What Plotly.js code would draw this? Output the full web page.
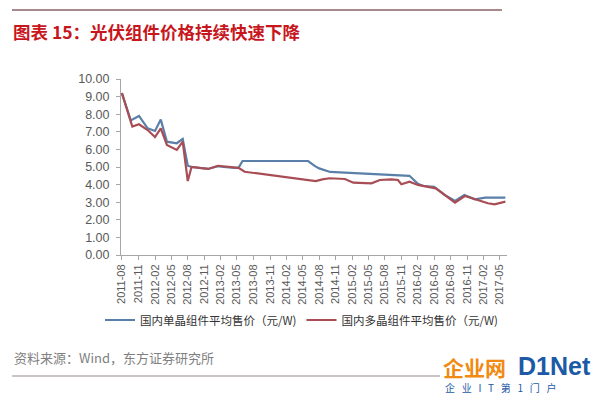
<!DOCTYPE html>
<html>
<head>
<meta charset="utf-8">
<script src="https://cdn.plot.ly/plotly-3.0.1.min.js"></script>
<style>html,body{margin:0;padding:0;background:#fff;}#chart{width:600px;height:397px;}</style>
</head>
<body>
<div id="chart"></div>
<script>
const monoDates = ['2011-08-01','2011-09-19','2011-11-04','2011-12-22','2012-02-01','2012-03-04','2012-04-07','2012-06-01','2012-07-04','2012-08-01','2012-08-22','2012-11-22','2013-01-16','2013-02-15','2013-04-19','2013-05-10','2013-06-01','2014-06-01','2014-07-07','2014-08-01','2014-10-01','2015-02-24','2015-07-01','2015-08-07','2015-12-16','2016-02-01','2016-03-01','2016-05-01','2016-07-01','2016-08-25','2016-10-16','2016-12-13','2017-02-09','2017-06-01'];
const monoPrice = [9.2,7.65,7.9,7.2,7.05,7.7,6.44,6.35,6.6,5.07,5.0,4.89,5.05,5.0,4.95,4.95,5.34,5.34,5.06,4.92,4.72,4.64,4.6,4.55,4.5,4.05,3.92,3.88,3.4,3.07,3.41,3.16,3.26,3.26];
const polyDates = ['2011-08-01','2011-09-19','2011-09-28','2011-11-04','2011-12-22','2012-02-01','2012-03-04','2012-04-07','2012-06-01','2012-07-04','2012-08-01','2012-08-22','2012-11-22','2013-01-16','2013-04-19','2013-05-10','2013-06-13','2014-05-19','2014-07-13','2014-08-19','2014-09-28','2014-12-22','2015-02-07','2015-05-19','2015-07-04','2015-09-07','2015-10-13','2015-11-01','2015-12-16','2016-02-01','2016-03-01','2016-05-10','2016-06-28','2016-08-25','2016-10-19','2016-12-22','2017-02-24','2017-04-01','2017-06-01'];
const polyPrice = [9.2,7.55,7.3,7.43,7.1,6.7,7.2,6.25,5.97,6.44,4.2,5.0,4.89,5.07,4.96,4.95,4.73,4.3,4.2,4.3,4.36,4.32,4.11,4.07,4.26,4.3,4.26,4.02,4.17,3.98,3.92,3.79,3.41,2.97,3.35,3.13,2.94,2.88,3.03];
const seriesNames = ['国内单晶组件平均售价（元/W)','国内多晶组件平均售价（元/W)'];
const titleText = '图表 15：光伏组件价格持续快速下降';
const sourceText = '资料来源：Wind，东方证券研究所';
const logoChars = ['企','业','I','T','第','1','门','户'];

const W = 600, H = 397, L = 121, R = 93, T = 79, B = 142;
const pw = W - L - R, ph = H - T - B;
const px = x => (x - L) / pw;
const py = y => (H - B - y) / ph;

const traces = [
  {x: monoDates, y: monoPrice, name: seriesNames[0], type: 'scatter', mode: 'lines',
   line: {color: '#5a7fa8', width: 2.2}},
  {x: polyDates, y: polyPrice, name: seriesNames[1], type: 'scatter', mode: 'lines',
   line: {color: '#a94d55', width: 2.2}}
];

const font = '"Noto Sans CJK SC", "Liberation Sans", Arial, sans-serif';
const layout = {
  width: W, height: H,
  margin: {l: L, r: R, t: T, b: B},
  paper_bgcolor: '#ffffff', plot_bgcolor: '#ffffff',
  font: {family: font, color: '#595959'},
  showlegend: true,
  legend: {orientation: 'h', x: px(100), y: py(320), xanchor: 'left', yanchor: 'middle',
           font: {size: 11.5, color: '#333333', family: font}, itemwidth: 30, tracegroupgap: 0,
           bgcolor: 'rgba(0,0,0,0)'},
  xaxis: {type: 'date', range: ['2011-07-27', '2017-06-10'], tick0: '2011-08-01', dtick: 'M3',
          tickformat: '%Y-%m', tickangle: -90, ticks: 'outside', ticklen: 4, tickcolor: '#a6a6a6',
          showline: true, linecolor: '#a6a6a6', linewidth: 1, showgrid: false, zeroline: false,
          tickfont: {size: 11, color: '#595959', family: '"Liberation Sans", Arial, sans-serif'}},
  yaxis: {range: [0, 10], dtick: 1, tickformat: '.2f', ticks: 'outside', ticklen: 4, tickcolor: '#a6a6a6',
          ticklabelstandoff: 4,
          showline: true, linecolor: '#a6a6a6', linewidth: 1, showgrid: false, zeroline: false,
          tickfont: {size: 12.5, color: '#595959', family: '"Liberation Sans", Arial, sans-serif'}},
  shapes: [
    {type: 'line', xref: 'paper', yref: 'paper', x0: px(12), x1: px(502), y0: py(10), y1: py(10),
     line: {color: '#a88a8c', width: 2}},
    {type: 'line', xref: 'paper', yref: 'paper', x0: px(12), x1: px(440), y0: py(376), y1: py(376),
     line: {color: '#b8b0b0', width: 1.5}}
  ],
  annotations: [
    {text: '<b>' + titleText + '</b>', xref: 'paper', yref: 'paper', x: px(11), y: py(31),
     xanchor: 'left', yanchor: 'middle', showarrow: false,
     font: {size: 17.5, color: '#c8161d', family: font}},
    {text: sourceText, xref: 'paper', yref: 'paper', x: px(12), y: py(357),
     xanchor: 'left', yanchor: 'middle', showarrow: false,
     font: {size: 13, color: '#7f7f7f', family: font}},
    {text: '<b>企业网</b>', xref: 'paper', yref: 'paper', x: px(441), y: py(367),
     xanchor: 'left', yanchor: 'middle', showarrow: false,
     font: {size: 21, color: '#f08a12', family: font}},
    {text: '<b>D1Net</b>', xref: 'paper', yref: 'paper', x: px(516), y: py(366),
     xanchor: 'left', yanchor: 'middle', showarrow: false,
     font: {size: 25, color: '#1c5aa6', family: '"Liberation Sans", Arial, sans-serif'}},
    {text: logoChars.join('&nbsp;&nbsp;&nbsp;'), xref: 'paper', yref: 'paper', x: px(444), y: py(387),
     xanchor: 'left', yanchor: 'middle', showarrow: false, borderpad: 0,
     font: {size: 10, color: '#1c5aa6', family: font}}
  ]
};

Plotly.newPlot('chart', traces, layout, {displayModeBar: false, staticPlot: true});
</script>
</body>
</html>
